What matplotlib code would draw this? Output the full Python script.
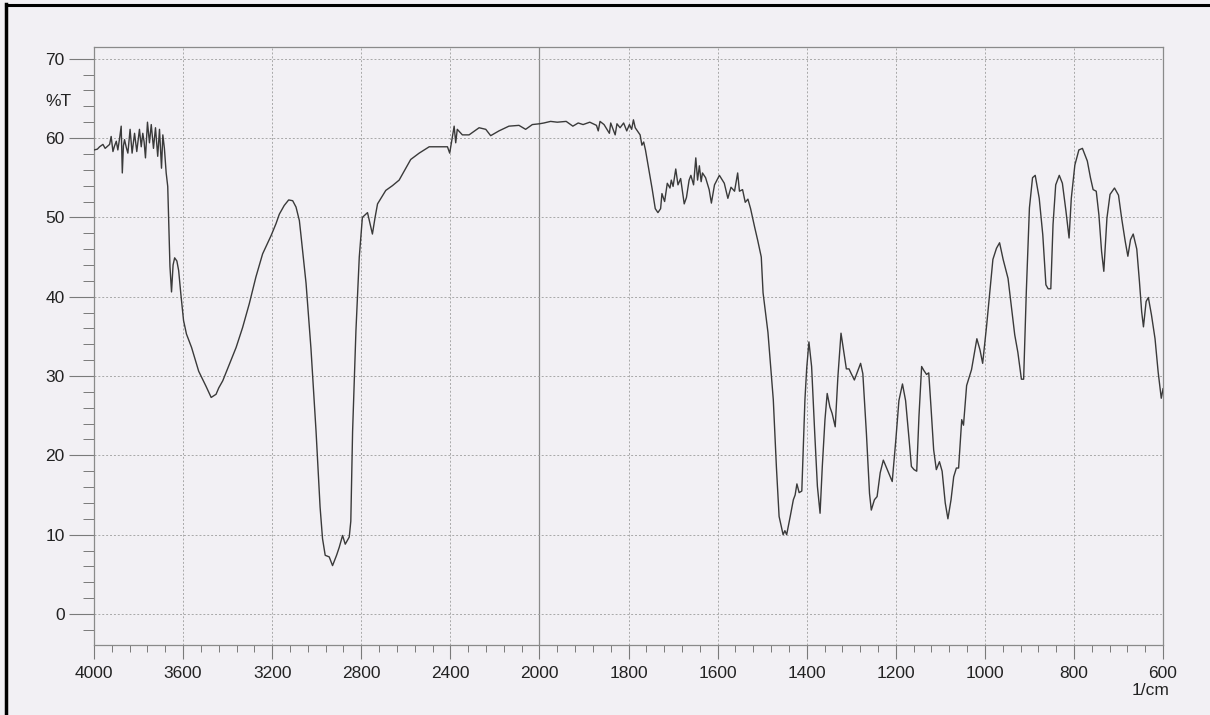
import numpy as np
import matplotlib
matplotlib.use("Agg")
import matplotlib.pyplot as plt
from matplotlib.lines import Line2D
from matplotlib.ticker import FixedLocator, NullFormatter

plt.rcParams['font.family'] = ['Liberation Sans', 'DejaVu Sans']

# ---- data: IR spectrum (wavenumber 1/cm, %T) ----
wavenumber = [
    4000, 3985, 3975, 3960, 3950, 3930, 3923, 3915, 3908, 3900, 3893, 3885, 3878, 3873,
    3868, 3863, 3855, 3848, 3838, 3829, 3818, 3808, 3796, 3788, 3781, 3775, 3769, 3760,
    3751, 3743, 3733, 3724, 3714, 3706, 3697, 3691, 3684, 3676, 3669, 3664, 3659, 3652,
    3645, 3638, 3628, 3620, 3610, 3598, 3585, 3562, 3530, 3497, 3474, 3452, 3440, 3422,
    3392, 3362, 3333, 3303, 3273, 3243, 3205, 3183, 3168, 3146, 3126, 3108, 3093, 3078,
    3071, 3048, 3026, 3003, 2985, 2974, 2962, 2944, 2929, 2911, 2899, 2884, 2872, 2854,
    2847, 2839, 2824, 2809, 2795, 2772, 2750, 2738, 2727, 2690, 2660, 2630, 2600, 2578,
    2540, 2495, 2451, 2413, 2403, 2383, 2376, 2369, 2346, 2316, 2271, 2241, 2219, 2182,
    2137, 2092, 2062, 2032, 2000, 1990, 1975, 1960, 1940, 1925, 1913, 1902, 1887, 1872,
    1868, 1864, 1855, 1843, 1840, 1830, 1826, 1819, 1811, 1804, 1798, 1793, 1789, 1785,
    1780, 1774, 1770, 1766, 1762, 1755, 1747, 1740, 1734, 1728, 1725, 1719, 1713, 1707,
    1704, 1700, 1694, 1689, 1683, 1675, 1670, 1664, 1660, 1654, 1649, 1645, 1641, 1637,
    1634, 1627, 1619, 1614, 1607, 1596, 1585, 1577, 1570, 1562, 1555, 1551, 1544, 1538,
    1532, 1526, 1517, 1510, 1502, 1498, 1487, 1475, 1468, 1462, 1456, 1453, 1449, 1445,
    1437, 1430, 1426, 1422, 1417, 1411, 1404, 1400, 1395, 1389, 1382, 1376, 1370, 1365,
    1359, 1354, 1348, 1343, 1336, 1330, 1323, 1316, 1311, 1305, 1300, 1293, 1285, 1279,
    1274, 1266, 1259, 1255, 1248, 1242, 1235, 1228, 1219, 1208, 1200, 1193, 1185, 1178,
    1170, 1165, 1159, 1153, 1148, 1142, 1137, 1131, 1126, 1121, 1115, 1109, 1102, 1096,
    1089, 1083, 1076, 1070, 1064, 1059, 1052, 1048, 1041, 1030, 1018, 1011, 1005, 996,
    989, 982, 974, 967, 959, 948, 941, 933, 926, 918, 913, 907, 900, 893,
    887, 878, 870, 863, 858, 852, 847, 841, 833, 826, 818, 811, 806, 798,
    789, 781, 770, 763, 757, 750, 744, 738, 733, 726, 719, 709, 700, 693,
    685, 679, 673, 667, 659, 653, 648, 644, 638, 633, 626, 618, 611, 604, 600,
]
transmittance = [
    58.5, 58.6, 58.9, 59.2, 58.7, 59.2, 60.2, 58.3, 59.0, 59.6, 58.5, 60.0, 61.5, 55.6,
    59.0, 59.8, 58.8, 58.1, 61.1, 58.1, 60.6, 58.3, 61.1, 58.9, 60.6, 59.5, 57.5, 62.0,
    59.4, 61.7, 58.7, 61.3, 57.7, 61.1, 56.2, 60.4, 58.7, 55.6, 53.9, 48.8, 43.8, 40.6,
    44.0, 44.9, 44.5, 43.3, 40.3, 37.0, 35.3, 33.6, 30.6, 28.7, 27.3, 27.7, 28.5, 29.4,
    31.5, 33.6, 36.1, 39.1, 42.5, 45.4, 47.7, 49.2, 50.4, 51.5, 52.2, 52.1, 51.3, 49.6,
    47.8, 41.7, 33.5, 23.0, 13.5, 9.5, 7.4, 7.2, 6.1, 7.4, 8.4, 9.9, 8.8, 9.7,
    11.7, 23.0, 35.7, 45.0, 50.0, 50.6, 47.9, 50.0, 51.7, 53.4, 54.0, 54.7, 56.2, 57.3,
    58.1, 58.9, 58.9, 58.9, 58.1, 61.5, 59.4, 61.1, 60.4, 60.4, 61.3, 61.1, 60.3, 60.9,
    61.5, 61.6, 61.1, 61.7, 61.8, 61.9, 62.1, 62.0, 62.1, 61.5, 61.9, 61.7, 62.0, 61.6,
    60.9, 62.1, 61.7, 60.6, 61.9, 60.4, 61.8, 61.3, 61.9, 60.9, 61.7, 61.1, 62.3, 61.3,
    60.9, 60.4, 59.1, 59.5, 58.5, 56.2, 53.6, 51.1, 50.6, 51.1, 53.0, 52.0, 54.3, 53.7,
    54.7, 53.9, 56.1, 54.1, 54.9, 51.7, 52.5, 54.7, 55.3, 54.1, 57.5, 54.7, 56.5, 54.5,
    55.6, 55.0, 53.5, 51.8, 54.1, 55.3, 54.3, 52.4, 53.8, 53.3, 55.6, 53.3, 53.5, 51.9,
    52.3, 51.1, 48.8, 47.1, 45.0, 40.5, 35.5, 27.0, 18.5, 12.3, 10.8, 10.0, 10.5, 10.0,
    12.3, 14.4, 15.0, 16.4, 15.3, 15.5, 27.0, 31.0, 34.3, 31.2, 22.8, 16.1, 12.7, 18.6,
    24.5, 27.8, 26.1, 25.3, 23.6, 29.9, 35.4, 32.8, 30.9, 30.9, 30.3, 29.5, 30.7, 31.6,
    30.3, 22.8, 15.2, 13.1, 14.4, 14.8, 17.8, 19.4, 18.2, 16.7, 21.9, 26.9, 29.0, 26.9,
    21.9, 18.6, 18.2, 18.0, 24.9, 31.2, 30.7, 30.2, 30.4, 26.1, 20.7, 18.2, 19.2, 18.0,
    14.0, 12.0, 14.4, 17.3, 18.4, 18.4, 24.5, 23.8, 28.8, 30.8, 34.7, 33.3, 31.6, 36.4,
    40.6, 44.7, 46.1, 46.8, 44.7, 42.3, 39.0, 35.2, 33.0, 29.6, 29.6, 40.6, 51.2, 55.0,
    55.3, 52.4, 47.8, 41.5, 41.0, 41.0, 49.1, 54.1, 55.3, 54.3, 50.8, 47.4, 52.4, 56.6,
    58.5, 58.7, 57.1, 55.0, 53.5, 53.3, 50.3, 45.7, 43.2, 49.9, 52.9, 53.7, 52.8, 49.9,
    47.0, 45.1, 47.2, 47.9, 46.0, 41.9, 38.1, 36.2, 39.4, 39.9, 37.7, 34.7, 30.5, 27.2, 28.4,
]

x_major = [4000, 3600, 3200, 2800, 2400, 2000, 1800, 1600, 1400, 1200, 1000, 800, 600]
y_major = [0, 10, 20, 30, 40, 50, 60, 70]

# ---- axis scale: 4000-2000 compressed 2:1 relative to 2000-600 ----
def fwd(w):
    w = np.asarray(w, dtype=float)
    return np.where(w >= 2000, 2000 + (w - 2000) / 2.0, w)

def inv(u):
    u = np.asarray(u, dtype=float)
    return np.where(u >= 2000, 2000 + (u - 2000) * 2.0, u)

paper = '#f2f0f4'
fig = plt.figure(figsize=(12.10, 7.15), dpi=100, facecolor=paper)
ax = fig.add_axes([0.0777, 0.098, 0.8835, 0.8365], facecolor=paper)
ax.set_xscale('function', functions=(fwd, inv))
ax.set_xlim(4000, 600)
ax.set_ylim(-3.9, 71.5)

# grid
for xv in x_major:
    if xv == 2000:
        ax.axvline(xv, color='#8a8a8a', lw=0.9, zorder=1)
    elif xv not in (4000, 600):
        ax.axvline(xv, color='#a8a8a8', lw=0.7, ls=(0, (2, 2)), zorder=1)
for yv in y_major:
    ax.axhline(yv, color='#a8a8a8', lw=0.7, ls=(0, (2, 2)), zorder=1)

ax.plot(wavenumber, transmittance, color='#3a3a3a', lw=1.0, zorder=3)

# ticks
minor_x = [v for v in list(np.arange(2080, 4000, 80)) + list(np.arange(640, 2000, 40))
           if v not in x_major]
ax.xaxis.set_major_locator(FixedLocator(x_major))
ax.xaxis.set_minor_locator(FixedLocator(minor_x))
ax.xaxis.set_minor_formatter(NullFormatter())
ax.set_xticklabels([str(v) for v in x_major])
ax.yaxis.set_major_locator(FixedLocator(y_major))
ax.yaxis.set_minor_locator(FixedLocator([v for v in range(-4, 71, 2) if v % 10 != 0]))
ax.yaxis.set_minor_formatter(NullFormatter())

ax.tick_params(axis='x', which='major', direction='out', length=10, width=0.8,
               color='#7a7a7a', labelsize=12.5, labelcolor='#222222', pad=5)
ax.tick_params(axis='x', which='minor', direction='out', length=5, width=0.7, color='#7a7a7a')
ax.tick_params(axis='y', which='major', direction='out', length=18, width=0.8,
               color='#7a7a7a', labelsize=12.5, labelcolor='#222222', pad=3)
ax.tick_params(axis='y', which='minor', direction='out', length=8, width=0.7, color='#7a7a7a')

for s in ax.spines.values():
    s.set_color('#8a8a8a')
    s.set_linewidth(0.9)

# axis labels placed like the instrument printout
ax.text(-0.021, 64.6, '%T', transform=ax.get_yaxis_transform(), ha='right', va='center',
        fontsize=12.5, color='#222222')
ax.text(1.006, -0.064, '1/cm', transform=ax.transAxes, ha='right', va='top',
        fontsize=12.5, color='#222222')

# scanned-page border on left and top
fig.add_artist(Line2D([6 / 1210, 6 / 1210], [0, 1 - 4 / 715], color='black', lw=2.5,
                      transform=fig.transFigure))
fig.add_artist(Line2D([6 / 1210, 1], [1 - 5 / 715, 1 - 5 / 715], color='black', lw=2.2,
                      transform=fig.transFigure))

fig.savefig('out.png', dpi=100, facecolor=paper)
